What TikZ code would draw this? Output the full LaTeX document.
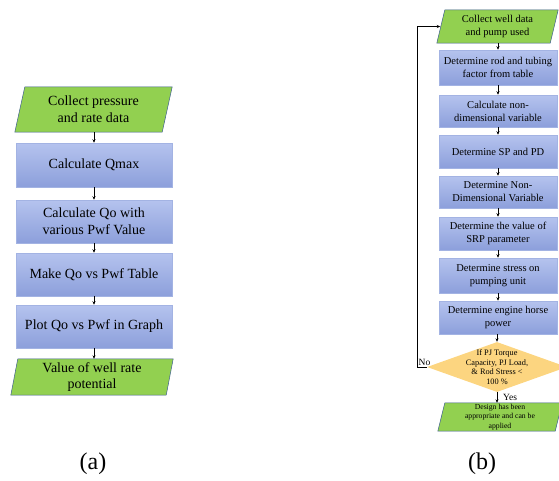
\documentclass[tikz,border=0pt]{standalone}
\usepackage{fontspec}
\setmainfont{Liberation Serif}
\usetikzlibrary{shapes.geometric,arrows.meta,backgrounds}
\definecolor{grn}{HTML}{92D050}
\definecolor{pedge}{HTML}{3F5F8F}
\definecolor{boxtop}{HTML}{B5C3EE}
\definecolor{boxbot}{HTML}{8C9FDB}
\definecolor{boxedge}{HTML}{A3B3E3}
\definecolor{diafill}{HTML}{FCD580}
\newcommand\paragr[2]{\path[para] ([xshift=#2]#1.north west) -- (#1.north east) -- ([xshift=-#2]#1.south east) -- (#1.south west) -- cycle;}
\begin{document}
\begin{tikzpicture}[x=1pt,y=-1pt,
  para/.style={fill=grn, draw=pedge, line width=0.5pt},
  ptext/.style={rectangle, inner sep=0pt, align=center},
  boxa/.style={rectangle, top color=boxtop, bottom color=boxbot, draw=boxedge, line width=0.5pt,
    minimum width=156pt, inner sep=0pt, align=center, font=\fontsize{14}{16.7}\selectfont},
  boxb/.style={rectangle, top color=boxtop, bottom color=boxbot, draw=boxedge, line width=0.5pt,
    minimum width=118pt, inner sep=0pt, align=center, font=\fontsize{10.5}{13}\selectfont},
  arr/.style={-{Stealth[length=3.5pt,width=3pt]}, line width=0.6pt, black},
  lbl/.style={inner sep=0pt, font=\fontsize{9.5}{11}\selectfont},
  captxt/.style={inner sep=0pt, font=\fontsize{24}{28}\selectfont}]
\useasboundingbox (0,0) rectangle (559,480);
\clip (0,0) rectangle (559,480);

% ---------- panel (a)
\node[ptext, minimum width=157pt, minimum height=45pt, font=\fontsize{14}{16.7}\selectfont] (pa1) at (93.5,109.5) {Collect pressure\\and rate data};
\node[boxa, minimum height=44pt] (ba2) at (94,165) {Calculate Qmax};
\node[boxa, minimum height=43pt] (ba3) at (94,221.5) {Calculate Qo with\\various Pwf Value};
\node[boxa, minimum height=43pt] (ba4) at (94,274.5) {Make Qo vs Pwf Table};
\node[boxa, minimum height=43pt] (ba5) at (94,326.5) {Plot Qo vs Pwf in Graph};
\node[ptext, minimum width=162pt, minimum height=36pt, font=\fontsize{14}{16.7}\selectfont] (pa6) at (92,377) {Value of well rate\\potential};
\begin{scope}[on background layer]
\paragr{pa1}{10pt}
\paragr{pa6}{7pt}
\end{scope}
\draw[arr] (pa1.south -| ba2.north) -- (ba2.north);
\draw[arr] (ba2) -- (ba3);
\draw[arr] (ba3) -- (ba4);
\draw[arr] (ba4) -- (ba5);
\draw[arr] (ba5.south) -- (ba5.south |- pa6.north);
\node[captxt] (capa) at (93,464) {(a)};

% ---------- panel (b)
\node[ptext, minimum width=121pt, minimum height=33pt, font=\fontsize{10.5}{13}\selectfont] (pb1) at (497.5,26.5) {Collect well data\\and pump used};
\node[boxb, minimum height=35pt] (bb2) at (498,67.5) {Determine rod and tubing\\factor from table};
\node[boxb, minimum height=32pt] (bb3) at (498,111) {Calculate non-\\dimensional variable};
\node[boxb, minimum height=33pt] (bb4) at (498,151.5) {Determine SP and PD};
\node[boxb, minimum height=32pt] (bb5) at (498,192) {Determine Non-\\Dimensional Variable};
\node[boxb, minimum height=33pt] (bb6) at (498,233.5) {Determine the value of\\SRP parameter};
\node[boxb, minimum height=35pt] (bb7) at (498,275.5) {Determine stress on\\pumping unit};
\node[boxb, minimum height=33pt] (bb8) at (498,317.5) {Determine engine horse\\power};
\node[diamond, fill=diafill, inner sep=0pt, minimum width=140pt, minimum height=50pt] (dia) at (497,367) {};
\node[inner sep=0pt, align=center, font=\fontsize{8.3}{9.7}\selectfont] (diat) at (dia.center) {If PJ Torque\\Capacity, PJ Load,\\\& Rod Stress <\\100 \%};
\node[ptext, minimum width=124pt, minimum height=28pt, font=\fontsize{7.7}{9.5}\selectfont] (pb9) at (500,417) {Design has been\\appropriate and can be\\applied};
\begin{scope}[on background layer]
\paragr{pb1}{8pt}
\paragr{pb9}{7pt}
\end{scope}
\draw[arr] (pb1.south -| bb2.north) -- (bb2.north);
\draw[arr] (bb2) -- (bb3);
\draw[arr] (bb3) -- (bb4);
\draw[arr] (bb4) -- (bb5);
\draw[arr] (bb5) -- (bb6);
\draw[arr] (bb6) -- (bb7);
\draw[arr] (bb7) -- (bb8);
\draw[arr] (bb8.south -| dia.north) -- (dia.north);
\draw[arr] (dia.south) -- (dia.south |- pb9.north);
\coordinate (fb) at (417,0);
\coordinate (entry) at ([xshift=3.5pt]pb1.west);
\draw[arr] (dia.west) -- (fb |- dia.west) |- (entry);
\node[lbl, anchor=south west] (no) at ([xshift=1.5pt,yshift=1pt]fb |- dia.west) {No};
\node[lbl, anchor=west] (yes) at (503,397) {Yes};
\node[captxt] (capb) at (482,464) {(b)};
\end{tikzpicture}
\end{document}
